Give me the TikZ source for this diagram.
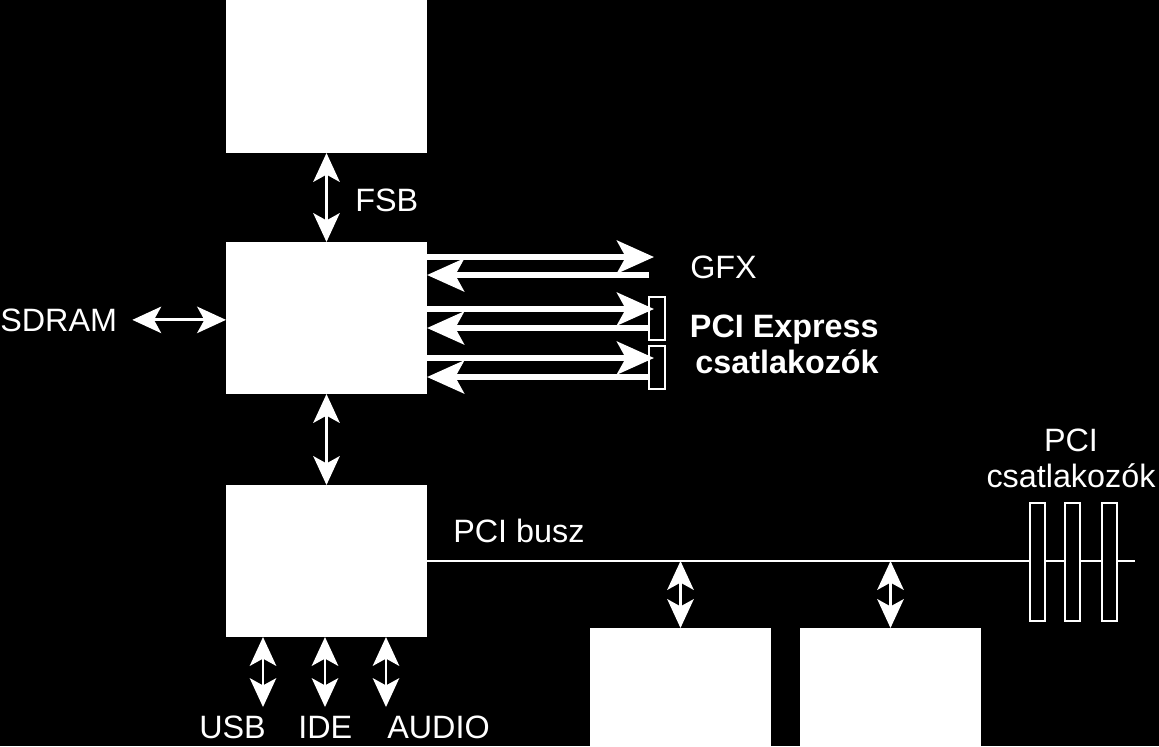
\documentclass[tikz,border=0pt]{standalone}
\usepackage{fontspec}
\setmainfont{Liberation Sans}
\usetikzlibrary{arrows.meta,positioning,calc}

\begin{document}
\begin{tikzpicture}[
    x=0.025cm, y=-0.025cm,
    chip/.style={rectangle, fill=white, inner sep=0pt, outer sep=0pt, minimum width=5.025cm, minimum height=3.8cm},
    card/.style={rectangle, fill=white, inner sep=0pt, outer sep=0pt, minimum width=4.525cm, minimum height=2.95cm},
    slotx/.style={rectangle, draw=white, line width=0.05cm, fill=black, inner sep=0pt, outer sep=0pt, minimum width=0.4cm, minimum height=1.075cm},
    pcislot/.style={rectangle, draw=white, line width=0.05cm, fill=black, inner sep=0pt, outer sep=0pt, minimum width=0.375cm, minimum height=2.95cm},
    lbl/.style={text=white, inner sep=0pt, font=\fontsize{23}{25}\selectfont},
    biarrow/.style={{Stealth[length=0.72cm, width=0.66cm, inset=0.18cm]}-{Stealth[length=0.72cm, width=0.66cm, inset=0.18cm]}, white, line width=0.07cm},
    bigarrow/.style={-{Stealth[length=0.925cm, width=0.82cm, inset=0.22cm]}, white, line width=0.15cm},
    bus/.style={white, line width=0.05cm}
]
% background
\fill[black] (0,0) rectangle (1159,746);
\useasboundingbox (0,0) rectangle (1159,746);

% Chips
\node[chip, minimum height=3.825cm] (cpu) at (326.5,76.5) {};
\node[chip] (nb) at (326.5,318) {};
\node[chip] (sb) at (326.5,561) {};
\node[card] (dev1) at (680.5,687) {};
\node[card] (dev2) at (890.5,687) {};

% Labels
\node[lbl, anchor=base west] (fsb) at (355,211) {FSB};
\node[lbl, anchor=base west] (sdram) at (0,331) {SDRAM};
\node[lbl, anchor=base west] (gfx) at (690,278) {GFX};
\node[lbl, anchor=north east, align=right, font=\fontsize{23}{25}\selectfont\bfseries] (pcie) at (879,315) {PCI Express\\csatlakozók};
\node[lbl, anchor=base west] (pcibusz) at (453,542) {PCI busz};
\node[lbl, anchor=north, align=center] (pcilbl) at (1071,429) {PCI\\csatlakozók};
\node[lbl, anchor=base west] (usb) at (199,738) {USB};
\node[lbl, anchor=base west] (ide) at (298,738) {IDE};
\node[lbl, anchor=base west] (audio) at (387,738) {AUDIO};

% PCI Express slots
\node[slotx] (pcie1) at (657,318.5) {};
\node[slotx] (pcie2) at (657,367.5) {};

% CPU, memory, south bridge
\draw[biarrow] (cpu.south) -- (nb.north);
\draw[biarrow] (nb.south) -- (sb.north);
\draw[biarrow] ($(sdram.east)+(15,0)$) -- (nb.west |- sdram.east);

% GFX
\draw[bigarrow] ($(nb.east |- pcie1.west)+(0,-61.5)$) -- ($(pcie1.west)+(5,-61.5)$);
\draw[bigarrow] ($(pcie1.west)+(0,-43.5)$) -- ($(nb.east |- pcie1.west)+(0,-43.5)$);

% PCI Express links
\foreach \s in {pcie1,pcie2}{
  \draw[bigarrow] ($(nb.east |- \s.west)+(0,-9.5)$) -- ($(\s.west)+(5,-9.5)$);
  \draw[bigarrow] ($(\s.west)+(0,9.5)$) -- ($(nb.east |- \s.west)+(0,9.5)$);
}

% PCI bus
\coordinate (busend) at (1135,561);
\draw[bus] (sb.east) -- (busend);
\node[pcislot] (pci1) at (1037.5,562) {};
\node[pcislot] (pci2) at (1072.5,562) {};
\node[pcislot] (pci3) at (1109,562) {};
\draw[biarrow] (dev1.north) -- (dev1.north |- sb.east);
\draw[biarrow] (dev2.north) -- (dev2.north |- sb.east);

% USB, IDE, AUDIO
\draw[biarrow] ($(sb.south)+(-63.5,0)$) -- ($(sb.south)+(-63.5,70)$);
\draw[biarrow] ($(sb.south)+(-1.5,0)$) -- ($(sb.south)+(-1.5,70)$);
\draw[biarrow] ($(sb.south)+(59.5,0)$) -- ($(sb.south)+(59.5,70)$);
\end{tikzpicture}
\end{document}
